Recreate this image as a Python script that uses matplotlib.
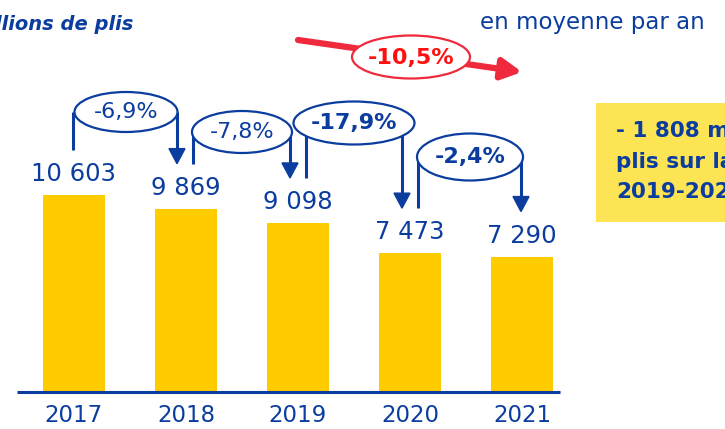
import matplotlib
matplotlib.use("Agg")
import matplotlib.pyplot as plt
from matplotlib.patches import Ellipse, Polygon, Rectangle

# data
years = ["2017", "2018", "2019", "2020", "2021"]
volumes = [10603, 9869, 9098, 7473, 7290]
value_labels = ["10 603", "9 869", "9 098", "7 473", "7 290"]
changes = ["-6,9%", "-7,8%", "-17,9%", "-2,4%"]
changes_bold = [False, False, True, True]
avg_change = "-10,5%"

BLUE = "#0b3d9f"
YELLOW = "#ffcc00"
RED = "#ee2a3c"

W, H = 725, 429
fig = plt.figure(figsize=(W / 100, H / 100), dpi=100)

# bar axes: baseline at 392 px from top, 10 603 -> 197 px tall
base_px = 392
scale = 197 / 10603.0
x0, step = 74, 112
ax = fig.add_axes([0, (H - base_px) / H, 1, base_px / H])
ax.set_xlim(-x0 / step, (W - x0) / step)
ax.set_ylim(0, base_px / scale)
ax.axis("off")
xs = list(range(len(years)))
ax.bar(xs, volumes, width=62 / step, color=YELLOW, zorder=2)

# overlay in pixel coordinates for annotations
ov = fig.add_axes([0, 0, 1, 1])
ov.set_xlim(0, W)
ov.set_ylim(H, 0)
ov.axis("off")


def bar_px(i):
    return x0 + step * i


def top_px(v):
    return base_px - v * scale


ov.plot([17, 560], [base_px, base_px], color=BLUE, lw=2.2, solid_capstyle="butt")

for i, (yr, v, lab) in enumerate(zip(years, volumes, value_labels)):
    ov.text(bar_px(i), 416, yr, ha="center", va="center", fontsize=16.5, color=BLUE)
    ov.text(bar_px(i), top_px(v) - 21, lab, ha="center", va="center",
            fontsize=17.5, color=BLUE)

# year-on-year change bubbles
ellipses = [(126, 112, 103, 40), (242, 132, 100, 42), (354, 123, 121, 43), (470, 157, 106, 47)]
left_off = [-1, 7, 8, 8]
right_off = [-9, -8, -8, -1]


def down_arrow(x, y1, y2, color=BLUE):
    hl, hw = 15, 8
    ov.plot([x, x], [y1, y2 - hl + 1], color=color, lw=2.2, solid_capstyle="butt", zorder=3)
    ov.add_patch(Polygon([[x - hw, y2 - hl], [x + hw, y2 - hl], [x, y2]],
                         closed=True, color=color, zorder=3))


for k, (txt, bold) in enumerate(zip(changes, changes_bold)):
    cx, cy, ew, eh = ellipses[k]
    lx = bar_px(k) + left_off[k]
    rx = bar_px(k + 1) + right_off[k]
    ov.plot([lx, lx], [cy, top_px(volumes[k]) - 45], color=BLUE, lw=2.2,
            solid_capstyle="butt", zorder=3)
    down_arrow(rx, cy, top_px(volumes[k + 1]) - 45)
    ov.add_patch(Ellipse((cx, cy), ew, eh, facecolor="white", edgecolor=BLUE,
                         lw=1.6, zorder=4))
    ov.text(cx, cy, txt, ha="center", va="center", fontsize=16, color=BLUE,
            fontweight="bold" if bold else "normal", zorder=5)

# average change arrow
sx, sy, ex, ey = 298, 40, 522, 72
ov.annotate("", xy=(ex, ey), xytext=(sx, sy),
            arrowprops=dict(arrowstyle="-|>,head_length=0.85,head_width=0.45",
                            lw=4.5, color=RED, shrinkA=0, shrinkB=0,
                            mutation_scale=14), zorder=3)
ov.add_patch(Ellipse((411, 57), 118, 43, facecolor="white", edgecolor=RED,
                     lw=1.6, zorder=4))
ov.text(411, 58, avg_change, ha="center", va="center", fontsize=16,
        fontweight="bold", color="#ff1010", zorder=5)

# headers
ov.text(133, 24, "En millions de plis", ha="right", va="center", fontsize=14,
        fontweight="heavy", style="italic", color=BLUE)
ov.text(480, 22, "en moyenne par an", ha="left", va="center", fontsize=16.5,
        color=BLUE)

# side box
ov.add_patch(Rectangle((596, 103), 200, 119, facecolor="#fde455", edgecolor="none",
                       zorder=1, clip_on=False))
for j, line in enumerate(["- 1 808 millions de", "plis sur la période", "2019-2021"]):
    ov.text(616, 131 + 30.5 * j, line, ha="left", va="center", fontsize=15.5,
            fontweight="bold", color=BLUE, zorder=2)

fig.savefig("out.png", dpi=100)
